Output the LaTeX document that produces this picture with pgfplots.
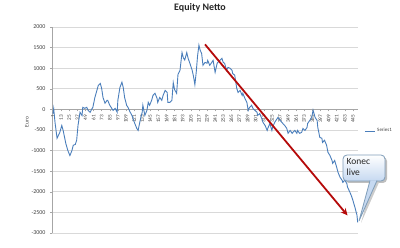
\documentclass[border=0pt]{standalone}
\usepackage{pgfplots}
\pgfplotsset{compat=1.18}
\usepackage{fontspec}
\setmainfont{Carlito}
\usetikzlibrary{arrows.meta}
\definecolor{serblue}{HTML}{4A7EBB}
\definecolor{arrred}{HTML}{B50A0A}
\definecolor{gridgray}{HTML}{D9D9D9}
\definecolor{axgray}{HTML}{A6A6A6}
\definecolor{txtgray}{HTML}{404040}
\definecolor{callborder}{HTML}{7F9DB9}
\definecolor{callbot}{HTML}{C6D9F1}
\begin{document}
\begin{tikzpicture}[x=1bp,y=1bp]
\useasboundingbox (0,0) rectangle (400,248);
\begin{axis}[
  at={(52bp,15bp)}, anchor=south west,
  scale only axis, width=306bp, height=206bp,
  xmin=-0.5, xmax=452.5, ymin=-3000, ymax=2000,
  axis x line=middle, axis y line=left,
  axis line style={-, draw=axgray, line width=0.6bp},
  tick align=outside, major tick length=2bp,
  tick style={draw=axgray, line width=0.5bp},
  ytick={-3000,-2500,...,2000},
  xtick={1,13,...,445},
  ymajorgrids, grid style={gridgray, line width=0.6bp},
  /pgf/number format/assume math mode=true,
  /pgf/number format/1000 sep={},
  yticklabel style={font=\fontsize{6}{7}\selectfont, text=txtgray, xshift=-1bp},
  xticklabel style={font=\fontsize{5.3}{6}\selectfont, text=txtgray, rotate=90, anchor=east},
  legend style={draw=none, fill=none, at={(1.02,0.495)}, anchor=west,
    font=\fontsize{5}{6}\selectfont, text=txtgray, inner sep=0pt},
  legend cell align=left,
  legend image code/.code={\draw[#1] (0bp,0bp) -- (10bp,0bp);},
]
\addplot[serblue, line width=0.9bp] coordinates {
(1,-100) (2,20) (4,-320) (7,-700) (11,-560) (14,-390) (16,-510) (20,-830)
(23,-1000) (26,-1120) (29,-1000) (31,-870) (34,-850) (36,-750) (38,-390)
(41,-70) (44,-150) (45,50) (48,25) (51,50) (53,-25) (56,-70) (59,25) (60,50)
(63,290) (68,580) (71,630) (73,510) (75,290) (78,150) (81,220) (82,220)
(85,100) (88,25) (90,-25) (93,25) (96,-70) (97,220) (100,530) (103,660)
(105,530) (107,290) (110,100) (112,50) (115,-60) (118,-150) (122,-340)
(125,-460) (127,-510) (130,-270) (133,-70) (134,100) (137,-145) (140,-25)
(142,170) (144,100) (147,220) (149,340) (152,390) (155,270) (156,170)
(159,290) (162,220) (164,340) (167,460) (170,410) (171,170) (174,170)
(177,220) (179,650) (181,480) (184,390) (186,850) (189,950) (192,1380)
(194,1250) (196,1200) (199,1380) (201,1240) (204,1100) (207,950) (209,800)
(211,600) (213,900) (215,1300) (217,1560) (219,1430) (221,1360) (223,1070)
(226,1140) (229,1120) (230,1190) (233,1070) (236,1140) (238,1190) (241,900)
(244,1120) (245,1140) (248,1190) (251,1240) (253,1140) (255,1120) (258,950)
(260,1020) (263,1000) (266,950) (267,870) (270,830) (273,510) (275,410)
(278,460) (281,340) (282,390) (285,270) (288,170) (290,-25) (292,50)
(295,100) (297,25) (300,-25) (303,-70) (304,-145) (307,-100) (310,-220)
(312,-320) (315,-390) (318,-510) (319,-460) (322,-340) (325,-510) (326,-440)
(329,-320) (334,-195) (340,-320) (344,-390) (347,-460) (349,-580) (352,-510)
(355,-580) (356,-560) (359,-510) (362,-580) (363,-510) (366,-580) (369,-560)
(371,-460) (374,-510) (377,-440) (378,-340) (381,-270) (384,-195) (386,-20)
(389,-195) (392,-270) (393,-440) (396,-680) (399,-700) (400,-800) (403,-750)
(406,-870) (408,-1040) (411,-1120) (414,-1240) (415,-1310) (418,-1240)
(421,-1410) (423,-1530) (426,-1650) (429,-1720) (430,-1770) (433,-1720)
(436,-1800) (437,-1890) (440,-1990) (443,-2110) (445,-2210) (448,-2380)
(451,-2570) (452,-2740)
};
\addlegendentry{Series1}
\addplot[forget plot, draw=arrred, line width=1.8bp,
  -{Stealth[length=7bp, width=6.5bp]}] coordinates {(226,1578) (437,-2573)};
\end{axis}
\node[font=\bfseries\fontsize{10}{12}\selectfont, text=black!85] at (200,240) {Equity Netto};
\node[font=\fontsize{5.5}{6}\selectfont, text=txtgray, rotate=90] at (27,126) {Euro};
% callout shadow
\path[fill=black!25, rounded corners=4bp] (345,65) rectangle (387,91);
\path[fill=black!20] (372,65.6) -- (361,25) -- (379,65.6) -- cycle;
% callout
\path[draw=callborder, line width=0.8bp, top color=white, bottom color=callbot,
  rounded corners=4bp] (343,67) rectangle (385,93);
\path[fill=callbot] (370,67.6) -- (359,27) -- (377,67.6) -- cycle;
\draw[callborder, line width=0.8bp] (370,67.4) -- (359,27) -- (377,67.4);
\node[font=\fontsize{9.5}{11}\selectfont, text=black!85, align=left, anchor=north west,
  inner sep=0pt] at (346.5,90) {Konec\\live};
\end{tikzpicture}
\end{document}
